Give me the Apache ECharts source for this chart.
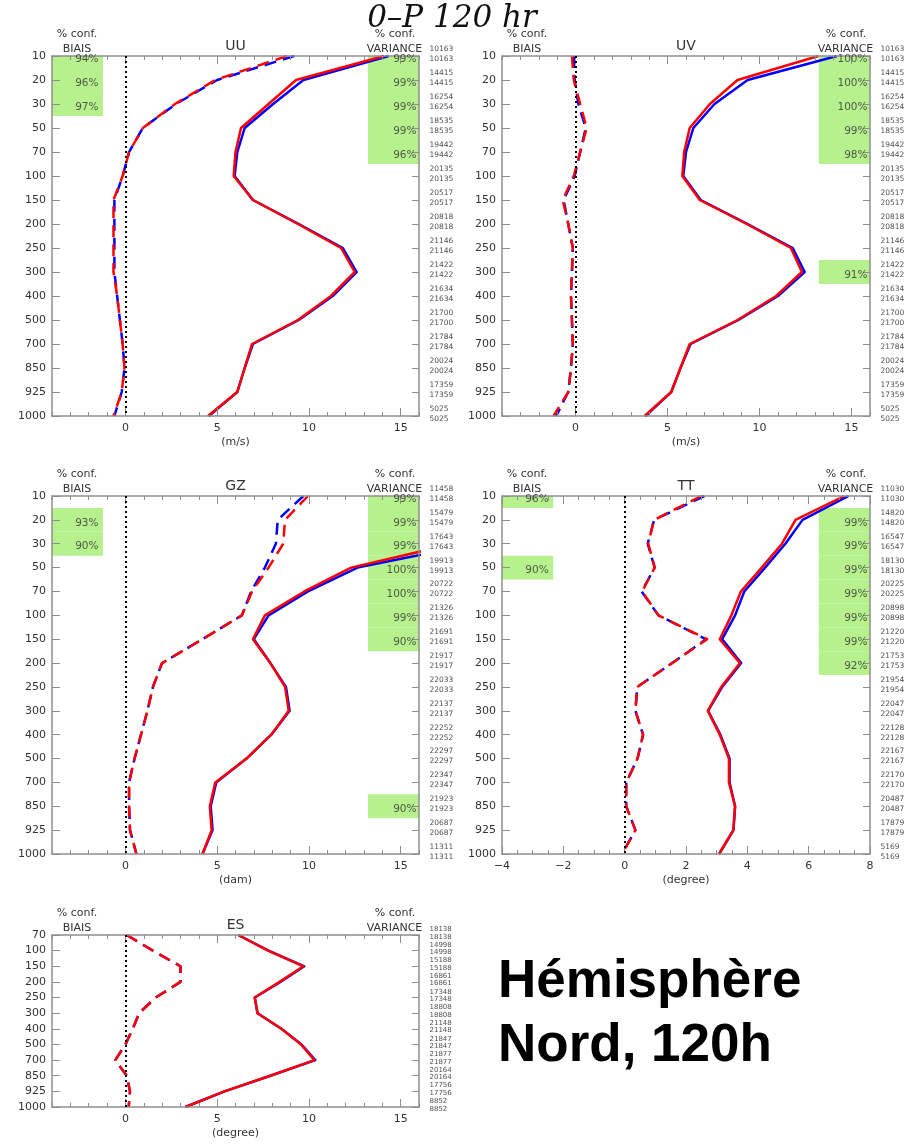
<!DOCTYPE html>
<html>
<head>
<meta charset="utf-8">
<script src="https://cdn.jsdelivr.net/npm/echarts@6/dist/echarts.min.js"></script>
<style>
  html, body { margin: 0; padding: 0; background: #fff; }
  #chart { width: 906px; height: 1145px; }
</style>
</head>
<body>
<div id="chart"></div>
<script>
// Pressure levels (hPa), top to bottom
const levels = ['10','20','30','50','70','100','150','200','250','300','400','500','700','850','925','1000'];
const levelsES = ['70','100','150','200','250','300','400','500','700','850','925','1000'];

// UU (m/s): standard deviation (solid) and bias (dashed), blue / red experiments
const uuStdBlue  = [14.35, 9.7, 8.05, 6.5, 6.1, 5.95, 6.95, 9.45, 11.85, 12.6, 11.3, 9.45, 6.95, 6.5, 6.1, 4.55];
const uuStdRed   = [14.1, 9.3, 7.8, 6.3, 6.0, 5.9, 6.95, 9.4, 11.75, 12.5, 11.2, 9.4, 6.9, 6.5, 6.1, 4.5];
const uuBiasBlue = [9.2, 5.0, 2.75, 0.95, 0.2, -0.15, -0.6, -0.6, -0.6, -0.6, -0.45, -0.3, -0.15, -0.05, -0.2, -0.6];
const uuBiasRed  = [8.8, 4.9, 2.7, 0.95, 0.2, -0.15, -0.65, -0.65, -0.65, -0.65, -0.45, -0.3, -0.15, -0.05, -0.2, -0.65];
const uuBiasConf = [94, 96, 97, null, null, null, null, null, null, null, null, null, null, null, null, null];
const uuVarConf  = [99, 99, 99, 99, 96, null, null, null, null, null, null, null, null, null, null, null];
const uuCounts   = [10163, 14415, 16254, 18535, 19442, 20135, 20517, 20818, 21146, 21422, 21634, 21700, 21784, 20024, 17359, 5025];

// UV (m/s)
const uvStdBlue  = [14.2, 9.35, 7.55, 6.4, 6.0, 5.85, 6.8, 9.35, 11.8, 12.45, 11.0, 8.85, 6.25, 5.7, 5.2, 3.8];
const uvStdRed   = [13.2, 8.8, 7.3, 6.2, 5.9, 5.8, 6.75, 9.3, 11.7, 12.3, 10.9, 8.8, 6.2, 5.7, 5.2, 3.75];
const uvBiasBlue = [-0.1, -0.05, 0.15, 0.55, 0.25, -0.05, -0.65, -0.4, -0.15, -0.2, -0.25, -0.2, -0.15, -0.25, -0.4, -1.05];
const uvBiasRed  = [-0.2, -0.1, 0.25, 0.6, 0.25, -0.1, -0.7, -0.4, -0.15, -0.2, -0.25, -0.2, -0.15, -0.25, -0.4, -1.2];
const uvBiasConf = [null, null, null, null, null, null, null, null, null, null, null, null, null, null, null, null];
const uvVarConf  = [100, 100, 100, 99, 98, null, null, null, null, 91, null, null, null, null, null, null];
const uvCounts   = [10163, 14415, 16254, 18535, 19442, 20135, 20517, 20818, 21146, 21422, 21634, 21700, 21784, 20024, 17359, 5025];

// GZ (dam)
const gzStdBlue  = [27, 23, 19.1, 12.65, 9.95, 7.8, 7.0, 7.9, 8.75, 8.95, 7.95, 6.6, 4.95, 4.65, 4.75, 4.2];
const gzStdRed   = [26, 22, 17.9, 12.3, 9.75, 7.6, 6.95, 7.9, 8.7, 8.9, 7.95, 6.6, 4.9, 4.6, 4.7, 4.2];
const gzBiasBlue = [9.7, 8.3, 8.2, 7.6, 6.85, 6.35, 4.2, 2.0, 1.5, 1.2, 0.85, 0.5, 0.2, 0.2, 0.25, 0.6];
const gzBiasRed  = [9.95, 8.7, 8.6, 7.8, 6.9, 6.35, 4.2, 2.0, 1.5, 1.2, 0.85, 0.5, 0.2, 0.2, 0.25, 0.6];
const gzBiasConf = [null, 93, 90, null, null, null, null, null, null, null, null, null, null, null, null, null];
const gzVarConf  = [99, 99, 99, 100, 100, 99, 90, null, null, null, null, null, null, 90, null, null];
const gzCounts   = [11458, 15479, 17643, 19913, 20722, 21326, 21691, 21917, 22033, 22137, 22252, 22297, 22347, 21923, 20687, 11311];

// TT (degree)
const ttStdBlue  = [7.3, 5.8, 5.24, 4.58, 3.9, 3.6, 3.18, 3.8, 3.18, 2.72, 3.12, 3.42, 3.42, 3.6, 3.55, 3.08];
const ttStdRed   = [7.16, 5.57, 5.13, 4.47, 3.79, 3.48, 3.1, 3.76, 3.15, 2.71, 3.1, 3.4, 3.4, 3.6, 3.54, 3.08];
const ttBiasBlue = [2.6, 0.96, 0.75, 0.98, 0.55, 1.1, 2.65, 1.55, 0.41, 0.35, 0.6, 0.42, 0.05, 0.05, 0.35, -0.09];
const ttBiasRed  = [2.5, 0.96, 0.77, 0.98, 0.57, 1.1, 2.69, 1.55, 0.41, 0.35, 0.6, 0.42, 0.05, 0.05, 0.35, -0.09];
const ttBiasConf = [96, null, null, 90, null, null, null, null, null, null, null, null, null, null, null, null];
const ttVarConf  = [null, 99, 99, 99, 99, 99, 99, 92, null, null, null, null, null, null, null, null];
const ttCounts   = [11030, 14820, 16547, 18130, 20225, 20898, 21220, 21753, 21954, 22047, 22128, 22167, 22170, 20487, 17879, 5169];

// ES (degree)
const esStdBlue  = [6.15, 7.8, 9.75, 8.45, 7.05, 7.2, 8.5, 9.6, 10.35, 7.9, 5.4, 3.27];
const esStdRed   = [6.15, 7.77, 9.7, 8.4, 7.05, 7.2, 8.5, 9.57, 10.3, 7.9, 5.4, 3.27];
const esBiasBlue = [0.07, 1.5, 3.0, 3.0, 1.65, 0.75, 0.4, 0.0, -0.55, 0.07, 0.25, 0.18];
const esBiasRed  = [0.07, 1.5, 3.0, 3.0, 1.65, 0.75, 0.4, 0.0, -0.55, 0.07, 0.25, 0.18];
const esBiasConf = [null, null, null, null, null, null, null, null, null, null, null, null];
const esVarConf  = [null, null, null, null, null, null, null, null, null, null, null, null];
const esCounts   = [18138, 14998, 15188, 16861, 17348, 18808, 21148, 21847, 21877, 20164, 17756, 8852];

// Panel layout and axes
const PANELS = [
  { key: 'UU', unit: '(m/s)',    lv: levels,   x: [-4, 16], step: 1,   majors: [0, 5, 10, 15],
    box: [52, 56, 367, 360],  std: [uuStdBlue, uuStdRed], bias: [uuBiasBlue, uuBiasRed],
    bConf: uuBiasConf, vConf: uuVarConf, n: uuCounts, nFont: 7.5, nLine: 10 },
  { key: 'UV', unit: '(m/s)',    lv: levels,   x: [-4, 16], step: 1,   majors: [0, 5, 10, 15],
    box: [502, 56, 368, 360], std: [uvStdBlue, uvStdRed], bias: [uvBiasBlue, uvBiasRed],
    bConf: uvBiasConf, vConf: uvVarConf, n: uvCounts, nFont: 7.5, nLine: 10 },
  { key: 'GZ', unit: '(dam)',    lv: levels,   x: [-4, 16], step: 1,   majors: [0, 5, 10, 15],
    box: [52, 496, 367, 358], std: [gzStdBlue, gzStdRed], bias: [gzBiasBlue, gzBiasRed],
    bConf: gzBiasConf, vConf: gzVarConf, n: gzCounts, nFont: 7.5, nLine: 10 },
  { key: 'TT', unit: '(degree)', lv: levels,   x: [-4, 8],  step: 0.5, majors: [-4, -2, 0, 2, 4, 6, 8],
    box: [502, 496, 368, 358], std: [ttStdBlue, ttStdRed], bias: [ttBiasBlue, ttBiasRed],
    bConf: ttBiasConf, vConf: ttVarConf, n: ttCounts, nFont: 7.5, nLine: 10 },
  { key: 'ES', unit: '(degree)', lv: levelsES, x: [-4, 16], step: 1,   majors: [0, 5, 10, 15],
    box: [52, 935, 367, 172], std: [esStdBlue, esStdRed], bias: [esBiasBlue, esBiasRed],
    bConf: esBiasConf, vConf: esVarConf, n: esCounts, nFont: 7, nLine: 7.5 },
];

const BLUE = '#0000ff', RED = '#ff0000', GREEN = '#b6f18e';
const AXIS = '#8e8e8e', TXT = '#333333';
const FONT = 'DejaVu Sans';
const CELL_FRAC = 0.139;   // width of the confidence columns, as a share of the x range

const grids = [], xAxes = [], yAxes = [], series = [], graphics = [];

function txt(x, y, text, size, align) {
  return {
    type: 'text', x: x, y: y, silent: true,
    style: { text: text, fill: TXT, font: size + 'px "' + FONT + '"',
             textAlign: align || 'center', textVerticalAlign: 'middle', verticalAlign: 'middle' }
  };
}

PANELS.forEach(function (p, k) {
  const [L, T, W, H] = p.box;
  const n = p.lv.length;
  grids.push({ left: L, top: T, width: W, height: H, containLabel: false });

  const isMajor = v => p.majors.some(m => Math.abs(m - v) < 1e-6);
  const fmt = v => isMajor(v) ? (v < 0 ? '\u2212' + Math.abs(v) : String(v)) : '';
  const frame = { show: true, onZero: false, lineStyle: { color: AXIS, width: 1.5 } };
  const noLine = { show: false, onZero: false };
  const tick = (len, custom) => Object.assign(
    { show: true, inside: true, length: len, lineStyle: { color: AXIS, width: 1 } },
    custom ? { customValues: custom } : {});
  const xc = { type: 'value', gridIndex: k, min: p.x[0], max: p.x[1], splitLine: { show: false }, z: 3 };

  // bottom: minor ticks + labels, then major ticks
  xAxes.push(Object.assign({}, xc, {
    position: 'bottom', interval: p.step, axisLine: frame, axisTick: tick(4),
    axisLabel: { show: true, formatter: fmt, color: TXT, fontFamily: FONT, fontSize: 11, margin: 7 },
    name: p.unit, nameLocation: 'middle', nameGap: 21,
    nameTextStyle: { color: TXT, fontFamily: FONT, fontSize: 11, verticalAlign: 'top' }
  }));
  xAxes.push(Object.assign({}, xc, {
    position: 'bottom', axisLine: noLine, axisTick: tick(8, p.majors), axisLabel: { show: false }
  }));
  // top: mirrored ticks
  xAxes.push(Object.assign({}, xc, {
    position: 'top', interval: p.step, axisLine: frame, axisTick: tick(4), axisLabel: { show: false }
  }));
  xAxes.push(Object.assign({}, xc, {
    position: 'top', axisLine: noLine, axisTick: tick(8, p.majors), axisLabel: { show: false }
  }));

  const yc = { type: 'value', gridIndex: k, min: 0, max: n - 1, interval: 1, inverse: true,
               splitLine: { show: false }, z: 3 };
  yAxes.push(Object.assign({}, yc, {
    position: 'left', axisLine: frame, axisTick: tick(8),
    axisLabel: { show: true, formatter: v => (p.lv[v] !== undefined ? p.lv[v] : ''),
                 color: TXT, fontFamily: FONT, fontSize: 11, margin: 6 }
  }));
  yAxes.push(Object.assign({}, yc, {
    position: 'right', axisLine: frame, axisTick: tick(7), axisLabel: { show: false }
  }));

  const xi = 4 * k, yi = 2 * k;
  const pts = a => a.map((v, i) => [v, i]);
  const range = p.x[1] - p.x[0];
  const leftEdge = p.x[0] + CELL_FRAC * range;
  const rightEdge = p.x[1] - CELL_FRAC * range;

  // green confidence cells
  const areas = [];
  p.bConf.forEach((c, i) => {
    if (c != null) areas.push([{ xAxis: p.x[0], yAxis: Math.max(0, i - 0.5) },
                               { xAxis: leftEdge, yAxis: Math.min(n - 1, i + 0.5) }]);
  });
  p.vConf.forEach((c, i) => {
    if (c != null) areas.push([{ xAxis: rightEdge, yAxis: Math.max(0, i - 0.5) },
                               { xAxis: p.x[1], yAxis: Math.min(n - 1, i + 0.5) }]);
  });
  series.push({
    type: 'line', xAxisIndex: xi, yAxisIndex: yi, data: [], z: 1, silent: true,
    markArea: { silent: true, itemStyle: { color: GREEN, borderWidth: 0 }, data: areas }
  });

  // zero line
  series.push({
    type: 'line', xAxisIndex: xi, yAxisIndex: yi, data: [], z: 2, silent: true,
    markLine: { silent: true, symbol: 'none', label: { show: false },
                lineStyle: { color: '#000', type: [2, 3], width: 2 }, data: [{ xAxis: 0 }] }
  });

  const line = (data, color, dashed) => ({
    type: 'line', xAxisIndex: xi, yAxisIndex: yi, data: pts(data),
    symbol: 'none', showSymbol: false, silent: true, z: 2,
    lineStyle: { color: color, width: 2.5, type: dashed ? [12, 7] : 'solid', cap: 'butt', join: 'round' }
  });
  series.push(line(p.std[0], BLUE, false));
  series.push(line(p.std[1], RED, false));
  series.push(line(p.bias[0], BLUE, true));
  series.push(line(p.bias[1], RED, true));

  // confidence percentages
  const pctStyle = { show: true, position: 'left', offset: [0, 3], color: TXT, fontFamily: FONT,
                     fontSize: 10.5, formatter: d => d.data.pct + '%' };
  series.push({
    type: 'scatter', xAxisIndex: xi, yAxisIndex: yi, symbolSize: 1, clip: false, silent: true, z: 4,
    itemStyle: { color: 'rgba(0,0,0,0)' },
    label: Object.assign({}, pctStyle, { distance: 4 }),
    data: p.bConf.map((c, i) => c == null ? null : { value: [leftEdge, i], pct: c }).filter(Boolean)
  });
  series.push({
    type: 'scatter', xAxisIndex: xi, yAxisIndex: yi, symbolSize: 1, clip: false, silent: true, z: 4,
    itemStyle: { color: 'rgba(0,0,0,0)' },
    label: Object.assign({}, pctStyle, { distance: 2 }),
    data: p.vConf.map((c, i) => c == null ? null : { value: [p.x[1], i], pct: c }).filter(Boolean)
  });

  // observation counts beside the right axis
  series.push({
    type: 'scatter', xAxisIndex: xi, yAxisIndex: yi, symbolSize: 1, clip: false, silent: true, z: 4,
    itemStyle: { color: 'rgba(0,0,0,0)' },
    label: { show: true, position: 'right', distance: 10, offset: [0, -2], color: '#222',
             fontFamily: FONT, fontSize: p.nFont, lineHeight: p.nLine, align: 'left',
             formatter: d => d.data.cnt + '\n' + d.data.cnt },
    data: p.n.map((c, i) => ({ value: [p.x[1], i], cnt: c }))
  });

  // panel headers
  graphics.push(txt(L + 25, T - 21.5, '% conf.', 11));
  graphics.push(txt(L + 25, T - 6.5, 'BIAIS', 11));
  graphics.push(txt(L + W / 2, T - 10, p.key, 14));
  graphics.push(txt(L + W - 24, T - 21.5, '% conf.', 11));
  graphics.push(txt(L + W - 24.5, T - 6.5, 'VARIANCE', 11));
});

// main title
graphics.push({
  type: 'text', x: 452, y: 19, silent: true,
  style: { text: '0\u2013P 120 hr', fill: '#111', font: 'italic 31px "DejaVu Serif"',
           textAlign: 'center', textVerticalAlign: 'middle', verticalAlign: 'middle' }
});
// region caption
graphics.push({
  type: 'text', x: 498, y: 950, silent: true,
  style: { text: 'Hémisphère\nNord, 120h', fill: '#000', font: 'bold 53px "Liberation Sans"',
           lineHeight: 64, textAlign: 'left', textVerticalAlign: 'top', verticalAlign: 'top' }
});

const chart = echarts.init(document.getElementById('chart'), null, { renderer: 'canvas' });
chart.setOption({
  animation: false,
  backgroundColor: '#ffffff',
  grid: grids,
  xAxis: xAxes,
  yAxis: yAxes,
  series: series,
  graphic: graphics
});
</script>
</body>
</html>
